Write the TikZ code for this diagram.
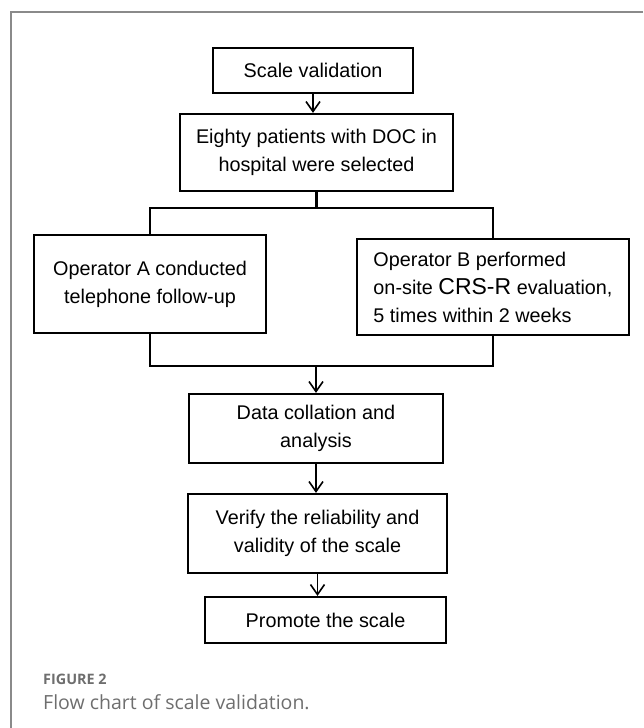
\documentclass[tikz,border=0pt]{standalone}
\usepackage{fontspec}
\setmainfont{Liberation Sans}
\newfontfamily\capfont{Open Sans}
\usetikzlibrary{arrows.meta}

\definecolor{capgray}{HTML}{6E6E6E}
\definecolor{framegray}{HTML}{8A8A8A}

\begin{document}
\begin{tikzpicture}[x=1pt,y=-1pt]
  \tikzset{box/.style 2 args = {draw,line width=2.2pt,minimum width=#1pt,minimum height=#2pt,
      inner sep=0pt,align=center,font=\fontsize{19.8}{28}\selectfont}}
  \tikzset{link/.style = {line width=2.2pt}}
  \tikzset{arr/.style = {-{Straight Barb[length=10pt,width=14pt,line width=1.6pt]},line width=1.8pt}}

  \useasboundingbox (0,0) rectangle (643,728);
  \draw[framegray,line width=1.5pt] (643,12) -- (11,12) -- (11,728);

	\node[box={200}{45}] (S) at (313,70.5) {Scale validation};
	\node[box={273}{77}] (E) at (316.5,152.5) {Eighty patients with DOC in\\hospital were selected};

	\node[box={232}{98}] (A) at (150,284) {Operator A conducted\\telephone follow-up};
	\node[box={272}{96},align=left] (B) at (493,287) {Operator B performed\\on-site {\fontsize{23}{28}\selectfont CRS-R} evaluation,\\5 times within 2 weeks};

	\node[box={254}{69}] (D) at (316,428.5) {Data collation and\\analysis};
	\node[box={259}{79}] (V) at (317.5,533.5) {Verify the reliability and\\validity of the scale};
	\node[box={241}{46}] (P) at (325.5,620) {Promote the scale};

  \coordinate (split) at (321,208);
  \coordinate (merge) at (316,366);

  \draw[link] (E.south) -- (E.south |- split);
  \draw[link] (A.north) |- (split) -| (B.north);
  \draw[link] (A.south) |- (merge) -| (B.south);
  \draw[arr] (merge) -- (D.north);

       \foreach \from/\to in {S/E, D/V, V/P}
    \path[arr] (\from.south) edge (\from.south |- \to.north);

	\node[anchor=west,inner sep=0pt,text=capgray,font=\capfont\fontsize{14.4}{16}\selectfont\bfseries] (fig) at (43,679) {FIGURE 2};
	\node[anchor=west,inner sep=0pt,text=capgray,font=\capfont\fontsize{19.5}{22}\selectfont] (cap) at (43,702) {Flow chart of scale validation.};
\end{tikzpicture}
\end{document}
